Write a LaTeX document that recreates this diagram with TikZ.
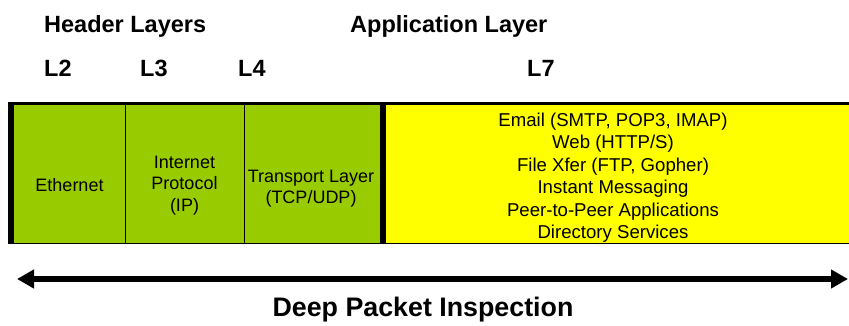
\documentclass[tikz,border=0pt]{standalone}
\usepackage{fontspec}
\setmainfont{Liberation Sans}
\usetikzlibrary{arrows.meta}
\definecolor{hdrgreen}{HTML}{99CC00}
\definecolor{appyellow}{HTML}{FFFF00}
\tikzset{
  title/.style={font=\fontsize{23.5}{28}\selectfont\bfseries, anchor=base west, inner sep=0pt},
  cell/.style={font=\fontsize{18}{21.5}\selectfont, align=center, inner sep=0pt},
  applist/.style={font=\fontsize{18.6}{22.4}\selectfont, align=center, inner sep=0pt},
  divider/.style={draw=black, line width=1pt},
  span/.style={line width=5.5pt, {Triangle[length=17pt,width=18pt]}-{Triangle[length=17pt,width=18pt]}}
}
\begin{document}
\begin{tikzpicture}[x=1pt,y=-1pt]
\useasboundingbox (0,0) rectangle (849,325);

% headings
\node[title] (hdr) at (44,32.3) {Header Layers};
\node[title] (app) at (350,32.3) {Application Layer};
\node[title] (l2) at (44,76.7) {L2};
\node[title] (l3) at (140,76.7) {L3};
\node[title] (l4) at (238,76.7) {L4};
\node[title] (l7) at (527,76.7) {L7};

% packet bar: black frame, green header part, yellow payload part
\fill[black] (8,102) rectangle (849,244);
\fill[hdrgreen] (14,105) rectangle (380,243);
\fill[appyellow] (386,105) rectangle (849,243);
\draw[divider] (125,105) -- (125,243);
\draw[divider] (244,105) -- (244,243);

% cell contents
\node[cell] (eth) at (69.5,185) {Ethernet};
\node[cell] (ip) at (184.5,185.4) {Internet\\Protocol\\(IP)};
\node[cell] (tl) at (311,188.9) {Transport Layer\\(TCP/UDP)};
\node[applist] (apps) at (613,177.7) {Email (SMTP, POP3, IMAP)\\Web (HTTP/S)\\File Xfer (FTP, Gopher)\\Instant Messaging\\Peer-to-Peer Applications\\Directory Services};

% inspection span
\coordinate (dpiL) at (17,279);
\coordinate (dpiR) at (848,279);
\draw[span] (dpiL) -- (dpiR);
\node[font=\fontsize{26.8}{32}\selectfont\bfseries, anchor=base, inner sep=0pt] (dpi) at (423,316) {Deep Packet Inspection};
\end{tikzpicture}
\end{document}
